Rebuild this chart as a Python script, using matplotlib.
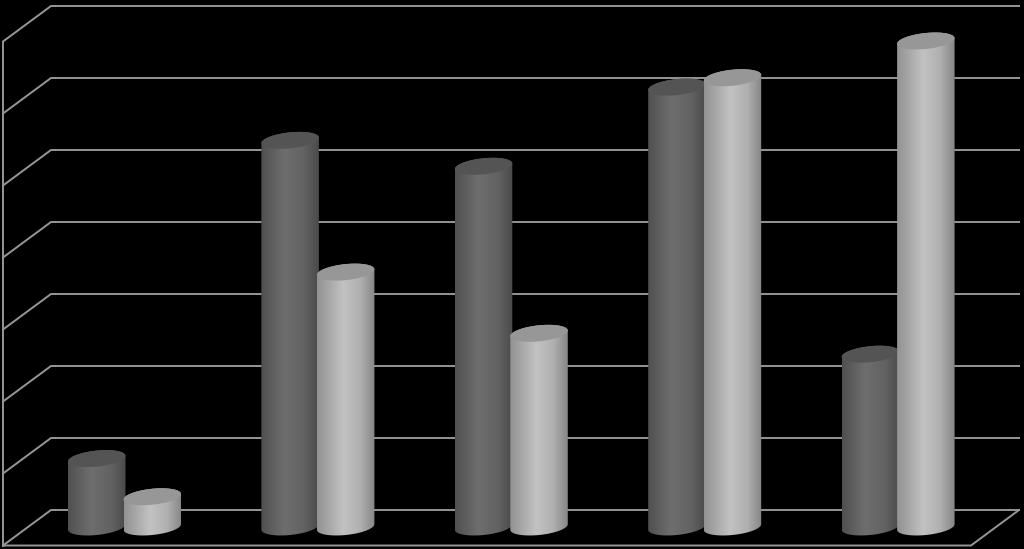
import numpy as np
import matplotlib
matplotlib.use("Agg")
import matplotlib.pyplot as plt
from matplotlib.colors import LinearSegmentedColormap
from matplotlib.path import Path
from matplotlib.patches import PathPatch

categories = [0, 1, 2, 3, 4]
series_a = [0.95, 5.37, 5.01, 6.11, 2.40]
series_b = [0.42, 3.54, 2.69, 6.24, 6.75]
grid_levels = [0, 1, 2, 3, 4, 5, 6, 7]

# one category is 193.4 px wide, one value unit is 72 px high
UX = 193.4
UY = 72.0
BAR_W = 57.5 / UX
GAP = 55.5 / UX
DEPTH_X = -48 / UX
DEPTH_Y = -35.5 / UY
BASE_Y = -17.0 / UY
RX = BAR_W / 2
RY = 8.0 / UY
TILT = 2.8 / UY   # right side of the ellipse sits higher

LINE = "#979797"
WALL_LEFT = -73.5 / UX
WALL_RIGHT = (1019 - 124.5) / UX

cmap_a = LinearSegmentedColormap.from_list("a", [(0, "#505050"), (0.4, "#6e6e6e"), (0.75, "#626262"), (1, "#4a4a4a")])
cmap_b = LinearSegmentedColormap.from_list("b", [(0, "#929292"), (0.45, "#c2c2c2"), (0.75, "#b0b0b0"), (1, "#868686")])


def ellipse(cx, cy, t):
    x = cx + RX * np.cos(t)
    y = cy + RY * np.sin(t) + TILT * np.cos(t)
    return x, y


def bar(ax, cx, value, cmap, top_color):
    top = BASE_Y + value
    t_low = np.linspace(np.pi, 2 * np.pi, 40)
    t_up = np.linspace(0, np.pi, 40)
    xb, yb = ellipse(cx, BASE_Y, t_low)
    xt, yt = ellipse(cx, top, t_up)
    body = np.column_stack([np.r_[xb, xt], np.r_[yb, yt]])
    patch = PathPatch(Path(np.vstack([body, body[0]]), closed=True), fc="none", ec="none", zorder=3)
    ax.add_patch(patch)
    grad = np.linspace(0, 1, 128).reshape(1, -1)
    im = ax.imshow(grad, cmap=cmap, vmin=0, vmax=1, aspect="auto", zorder=3, interpolation="bilinear",
                   extent=[cx - RX, cx + RX, BASE_Y - 1, top + 1])
    im.set_clip_path(patch)
    t = np.linspace(0, 2 * np.pi, 80)
    xc, yc = ellipse(cx, top, t)
    ax.fill(xc, yc, color=top_color, lw=0, zorder=3)


fig = plt.figure(figsize=(10.24, 5.49), dpi=100, facecolor="black")
ax = fig.add_axes([0, 0, 1, 1], facecolor="black")

for lev in grid_levels:
    ax.plot([WALL_LEFT + DEPTH_X, WALL_LEFT, WALL_RIGHT], [lev + DEPTH_Y, lev, lev], color=LINE, lw=1.4, zorder=1,
            solid_joinstyle="miter")

# left wall edge and floor front
x_left = WALL_LEFT + DEPTH_X
ax.plot([x_left, x_left], [DEPTH_Y, 7 + DEPTH_Y], color=LINE, lw=1.4, zorder=1)
ax.plot([x_left, WALL_RIGHT + DEPTH_X, WALL_RIGHT], [DEPTH_Y, DEPTH_Y, 0], color=LINE, lw=1.4, zorder=1)

for i in categories:
    bar(ax, i - GAP / 2, series_a[i], cmap_a, "#545454")
    bar(ax, i + GAP / 2, series_b[i], cmap_b, "#979797")

ax.set_xlim(-124.5 / UX, (1024 - 124.5) / UX)
ax.set_ylim((510 - 549) / UY, 510 / UY)
ax.axis("off")
fig.savefig("out.png", dpi=100, facecolor="black")
